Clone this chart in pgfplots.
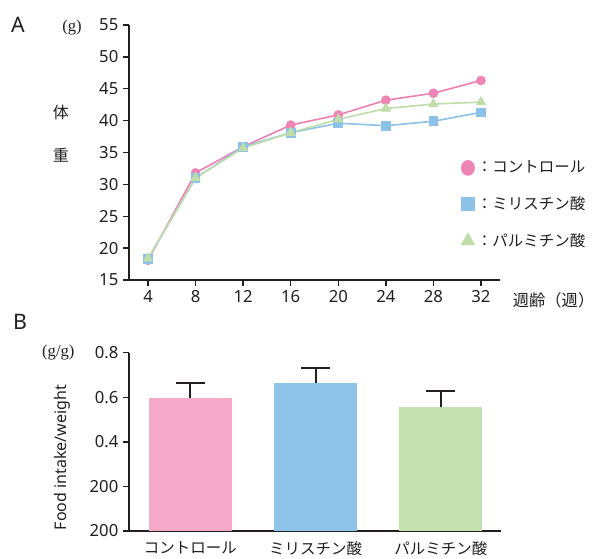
\documentclass[border=0pt]{standalone}
\usepackage{pgfplots}
\pgfplotsset{compat=1.18}
\usepackage{fontspec}
\setmainfont{Noto Sans}
\newfontfamily\jp{Noto Sans CJK JP}
\newfontfamily\serifu{Liberation Serif}
\definecolor{axisc}{HTML}{231F20}
\definecolor{pinkL}{HTML}{EE7FB0}
\definecolor{pinkM}{HTML}{EF85B5}
\definecolor{blueL}{HTML}{8CC2E8}
\definecolor{greenL}{HTML}{BFDDA9}
\definecolor{pinkB}{HTML}{F5A9C9}
\definecolor{blueB}{HTML}{8FC4E9}
\definecolor{greenB}{HTML}{C4E0AE}
\begin{document}
\begin{tikzpicture}
\node[font=\bfseries\fontsize{16}{18}\selectfont, color=axisc] at (13.5pt,400.5pt) {A};
\node[font=\bfseries\fontsize{16}{18}\selectfont, color=axisc] at (15pt,177.75pt) {B};
\begin{axis}[
  at={(96.75pt,209.25pt)}, anchor=south west, scale only axis,
  width=278.25pt, height=191.25pt,
  xmin=2.4, xmax=33.6, ymin=15, ymax=55,
  axis lines=left, axis line style={-, line width=1.1pt, color=axisc},
  tick align=outside, major tick length=4.5pt,
  tick style={line width=1.1pt, color=axisc},
  xtick={4,8,...,32}, ytick={15,20,...,55},
  tick label style={font=\fontsize{12.5}{14}\selectfont, color=axisc},
  /pgf/number format/assume math mode=true,
  xlabel={\jp 週齢（週）},
  xlabel style={at={(rel axis cs:1,0)}, anchor=west, inner sep=0pt, xshift=9.5pt, yshift=-15pt, font=\fontsize{12.2}{14}\selectfont, color=axisc},
  ylabel={\jp 体\\[18pt]\jp 重},
  ylabel style={rotate=-90, at={(rel axis cs:0,0.575)}, anchor=center, xshift=-51pt, align=center, font=\fontsize{12}{14}\selectfont, color=axisc},
  clip=false,
  legend style={draw=none, fill=none, at={(axis cs:30.34,34.14)}, anchor=north west,
    font=\jp\fontsize{11.6}{14}\selectfont, row sep=12.3pt, inner sep=0pt, text=axisc},
  legend cell align=left,
]
\addplot[color=pinkL, line width=1.2pt, mark=*, mark size=3pt, mark options={fill=pinkM, draw=pinkM},
  legend image code/.code={\draw[draw=none, mark=*, mark size=4.6pt, mark options={fill=pinkM, draw=pinkM, yscale=1.15}] plot coordinates {(0pt,0pt)};}]
  coordinates {(4,18.1) (8,31.8) (12,35.9) (16,39.3) (20,40.9) (24,43.2) (28,44.3) (32,46.3)};
\addplot[color=blueL, line width=1.2pt, mark=square*, mark size=3pt, mark options={fill=blueL, draw=blueL},
  legend image code/.code={\draw[draw=none, mark=square*, mark size=4.8pt, mark options={fill=blueL, draw=blueL}] plot coordinates {(0pt,0pt)};}]
  coordinates {(4,18.3) (8,31.0) (12,35.9) (16,38.1) (20,39.6) (24,39.2) (28,39.9) (32,41.3)};
\addplot[color=greenL, line width=1.2pt, mark=triangle*, mark size=3.4pt, mark options={fill=greenL, draw=greenL},
  legend image code/.code={\draw[draw=none, mark=triangle*, mark size=5.2pt, mark options={fill=greenL, draw=greenL}] plot coordinates {(0pt,0pt)};}]
  coordinates {(4,18.4) (8,31.0) (12,35.7) (16,38.1) (20,40.2) (24,41.9) (28,42.6) (32,42.9)};
\legend{：コントロール, ：ミリスチン酸, ：パルミチン酸}
\node[font=\serifu\fontsize{12.5}{14}\selectfont, color=axisc] at (rel axis cs:0,1) [xshift=-42.75pt, yshift=-2pt] {(g)};
\end{axis}
\begin{axis}[
  at={(96.75pt,21pt)}, anchor=south west, scale only axis,
  width=279pt, height=133.7pt,
  xmin=-0.49, xmax=2.48, ymin=0, ymax=0.8,
  axis lines=left, axis line style={-, line width=1.1pt, color=axisc},
  tick align=outside, major tick length=4.5pt,
  tick style={line width=1.1pt, color=axisc},
  xtick={0,1,2}, xticklabels={コントロール,ミリスチン酸,パルミチン酸},
  x tick style={draw=none},
  xticklabel style={font=\jp\fontsize{11.6}{14}\selectfont, color=axisc},
  ytick={0,0.2,0.4,0.6,0.8}, yticklabels={200,200,0.4,0.6,0.8},
  yticklabel style={font=\fontsize{12.5}{14}\selectfont, color=axisc},
  ylabel={Food intake/weight},
  ylabel style={at={(rel axis cs:-0.18,0.412)}, anchor=center, font=\fontsize{12}{14}\selectfont, color=axisc},
  clip=false,
]
\addplot[ybar, bar width=62.25pt, bar shift=0pt, fill=pinkB, draw=none,
  error bars/.cd, y dir=plus, y explicit,
  error bar style={line width=1.5pt, color=axisc},
  error mark options={rotate=90, line width=1.5pt, color=axisc, mark size=10.9pt}]
  coordinates {(0,0.595) +- (0,0.07)};
\addplot[ybar, bar width=62.25pt, bar shift=0pt, fill=blueB, draw=none,
  error bars/.cd, y dir=plus, y explicit,
  error bar style={line width=1.5pt, color=axisc},
  error mark options={rotate=90, line width=1.5pt, color=axisc, mark size=10.9pt}]
  coordinates {(1,0.664) +- (0,0.066)};
\addplot[ybar, bar width=62.25pt, bar shift=0pt, fill=greenB, draw=none,
  error bars/.cd, y dir=plus, y explicit,
  error bar style={line width=1.5pt, color=axisc},
  error mark options={rotate=90, line width=1.5pt, color=axisc, mark size=10.9pt}]
  coordinates {(2,0.556) +- (0,0.072)};
\node[font=\serifu\fontsize{12.5}{14}\selectfont, color=axisc] at (rel axis cs:0,1) [xshift=-53pt] {(g/g)};
\end{axis}
\pgfresetboundingbox
\path[use as bounding box] (0,0) rectangle (446.25pt,419.25pt);
\end{tikzpicture}
\end{document}
